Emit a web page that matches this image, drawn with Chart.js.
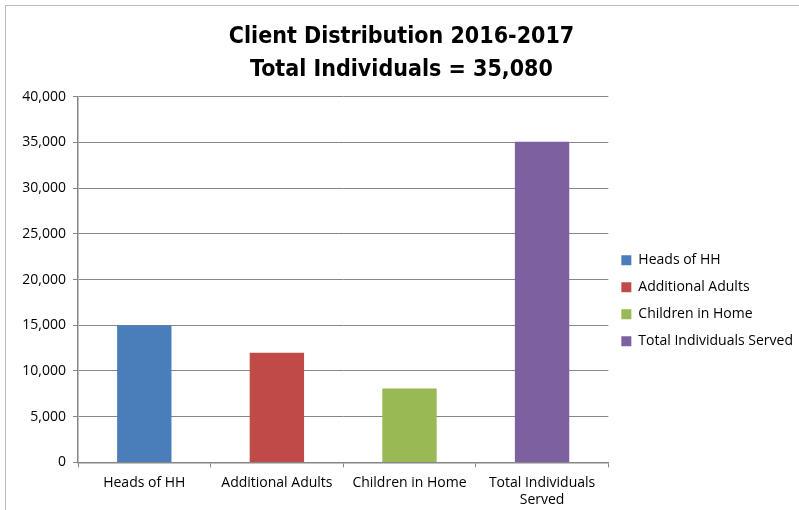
<!DOCTYPE html>
<html lang="en">
<head>
    <meta charset="UTF-8">
    <title>Client Distribution 2016-2017</title>
    <script src="https://cdn.jsdelivr.net/npm/chart.js"></script>
    <style>
        body {
            margin: 0;
            background: #ffffff;
            overflow: hidden;
        }
        #marco {
            position: absolute;
            left: 5px;
            top: 5px;
            width: 820px;
            height: 540px;
            border: 1px solid #bcbcbc;
        }
        #grafica {
            position: absolute;
            left: 0;
            top: 0;
        }
    </style>
</head>
<body>
    <div id="marco"></div>
    <canvas id="grafica" width="799" height="510"></canvas>

    <script>
        // Datos
        const categorias = ['Heads of HH', 'Additional Adults', 'Children in Home', 'Total Individuals Served'];
        const etiquetasX = ['Heads of HH', 'Additional Adults', 'Children in Home', ['Total Individuals', 'Served']];
        const valores = [15000, 12000, 8080, 35080];
        const colores = ['#4A7EBB', '#BE4B48', '#98B954', '#7D60A0'];
        const titulo = ['Client Distribution 2016-2017', 'Total Individuals = 35,080'];

        const fuente = "'Open Sans', 'Liberation Sans', sans-serif";
        const gris = '#868686';

        const ctx = document.getElementById('grafica').getContext('2d');
        new Chart(ctx, {
            type: 'bar',
            data: {
                labels: etiquetasX,
                datasets: [{
                    data: valores,
                    backgroundColor: colores,
                    borderWidth: 0,
                    categoryPercentage: 1,
                    barPercentage: 0.41
                }]
            },
            options: {
                responsive: false,
                animation: false,
                layout: { padding: { left: 0, right: -4, top: 0, bottom: -5 } },
                plugins: {
                    title: {
                        display: true,
                        text: titulo,
                        color: '#000000',
                        font: { family: "'DejaVu Sans Condensed', 'Liberation Sans', sans-serif", size: 23, weight: 'bold', lineHeight: 1.43 },
                        padding: { top: 21, bottom: 10 }
                    },
                    legend: {
                        position: 'right',
                        title: { display: true, text: '', padding: { top: 36, bottom: 36 } },
                        labels: {
                            boxWidth: 10,
                            boxHeight: 10,
                            padding: 13,
                            color: '#000000',
                            font: { family: fuente, size: 14 },
                            generateLabels: () => categorias.map((c, i) => ({
                                text: c,
                                fillStyle: colores[i],
                                strokeStyle: colores[i],
                                fontColor: '#000000',
                                lineWidth: 0,
                                hidden: false,
                                index: i
                            }))
                        }
                    },
                    tooltip: { enabled: false }
                },
                scales: {
                    x: {
                        border: { color: gris, width: 1.5 },
                        grid: { drawOnChartArea: false, drawTicks: true, tickLength: 5, color: gris },
                        ticks: { color: '#000000', font: { family: fuente, size: 14 }, maxRotation: 0, padding: 7 }
                    },
                    y: {
                        min: 0,
                        max: 40000,
                        border: { color: gris, width: 1.5 },
                        grid: { color: gris, tickLength: 5 },
                        ticks: {
                            stepSize: 5000,
                            color: '#000000',
                            font: { family: fuente, size: 14 },
                            padding: 7,
                            callback: v => v.toLocaleString('en-US')
                        },
                        afterFit: s => { s.width = 78; }
                    }
                }
            }
        });
    </script>
</body>
</html>
